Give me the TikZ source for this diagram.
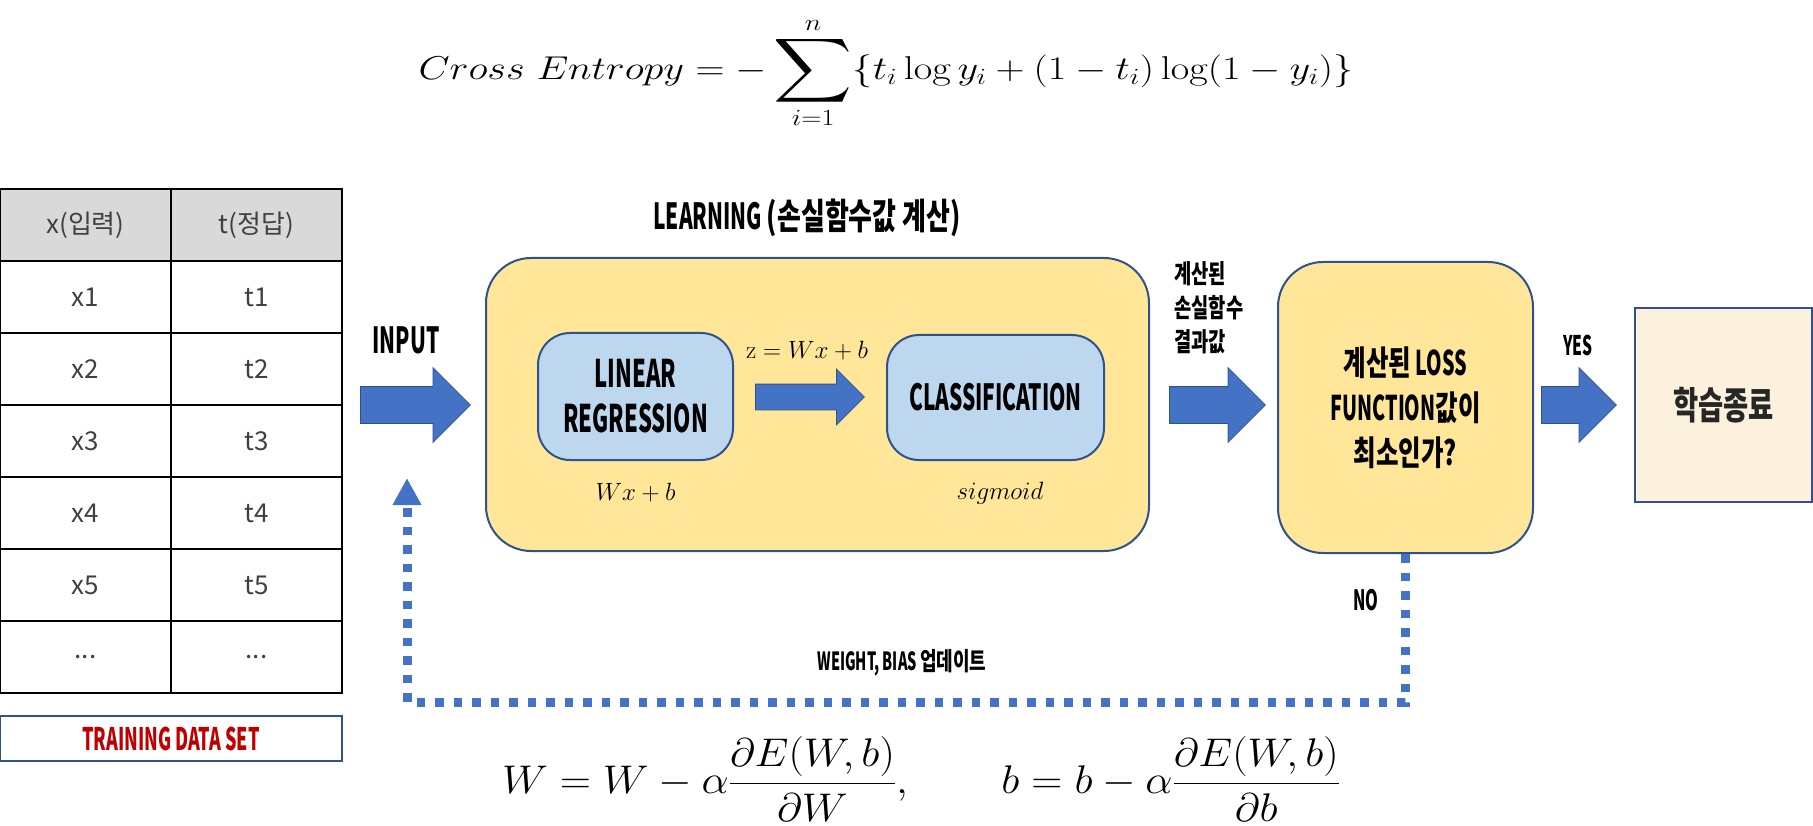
\RequirePackage{fix-cm}
\documentclass[tikz,border=0pt]{standalone}
\usepackage{fontspec}
\usepackage{amsmath}
\usetikzlibrary{positioning,shapes.arrows,arrows.meta}

\newfontfamily\krfont{Noto Sans CJK KR}
\newfontfamily\headfont[FakeStretch=0.58]{Noto Sans CJK KR}
\newfontfamily\headkr[FakeStretch=0.72]{Noto Sans CJK KR}
\newcommand{\fsz}[2]{\fontsize{#1}{#2}\selectfont}
\newcommand{\krtxt}[1]{{\headkr #1}}
\newcommand{\tdots}{...}
\newcommand{\bigsum}{\mathop{\vcenter{\hbox{\scalebox{1.8}{$\displaystyle\sum$}}}}\limits}

\definecolor{arrowblue}{HTML}{4472C4}
\definecolor{edgeblue}{HTML}{2F528F}
\definecolor{boxyellow}{HTML}{FFE699}
\definecolor{boxblue}{HTML}{BDD7EE}
\definecolor{cream}{HTML}{FBF1DC}
\definecolor{headgray}{HTML}{D9D9D9}
\definecolor{celltext}{HTML}{404040}
\definecolor{donetext}{HTML}{262626}
\definecolor{setred}{HTML}{C00000}

\begin{document}
\begin{tikzpicture}[x=1pt,y=-1pt,node distance=60pt,on grid,
    cell/.style={draw,line width=2pt,minimum width=171pt,minimum height=72pt,
      inner sep=0pt,text=celltext,font=\krfont\fsz{26}{30}},
    hcell/.style={cell,fill=headgray},
    head/.style 2 args={font=\headfont\bfseries\fsz{#1}{#2},align=center},
    box/.style={rounded corners=#1,draw=edgeblue,line width=2pt,inner sep=0pt},
    box/.default=30pt,
    blk/.style={single arrow,fill=arrowblue,draw=edgeblue,line width=0.8pt,
      inner xsep=0pt,inner ysep=18pt,single arrow head extend=19pt,
      single arrow head indent=0pt,anchor=tail},
    mathlbl/.style={font=\fsz{25}{30}},
    fb/.style={draw=arrowblue,line width=9pt,dash pattern=on 8.5pt off 10pt,
      -{Triangle[width=27pt,length=27pt]}}]
  \useasboundingbox (0,0) rectangle (1813,826);

  % cross entropy
  \node[font=\fsz{33}{40},inner sep=0pt] (ce) at (886,73)
    {\scalebox{1.22}[1]{$\displaystyle Cross\ Entropy=-\bigsum_{i=1}^{n}\{t_i\log y_i+(1-t_i)\log(1-y_i)\}$}};

  % training data table
  \node[hcell] (xh) at (85.5,225) {x(입력)};
  \node[hcell] (th) [right=171pt of xh] {t(정답)};
  \foreach \a/\b [count=\i] in {x1/t1,x2/t2,x3/t3,x4/t4,x5/t5,\tdots/\tdots}
    {
    \node[cell] (x\i) at (85.5,225+72*\i) {\a};
    \node[cell] (t\i) [right=171pt of x\i] {\b};
    }
  \node[draw=edgeblue,line width=2pt,minimum width=342pt,minimum height=45pt,
    head={31}{36},text=setred] (train) at (171,738.5) {TRAINING DATA SET};

  % learning block
  \node[blk,minimum height=110pt] (inarr) at (360,405) {};
  \node[head={36}{42}] (inlbl) at (406,340) {INPUT};
  \node[box=45pt,fill=boxyellow,minimum width=663pt,minimum height=293pt] (learn) at (817.5,404.5) {};
  \node[head={36}{42}] (ltitle) [above=186.5pt of learn,xshift=-10.5pt] {LEARNING \krtxt{(손실함수값 계산)}};
  \node[box=32pt,fill=boxblue,minimum width=195pt,minimum height=127pt,head={38}{45}] (lin) at (635.5,396.5) {LINEAR\\REGRESSION};
  \node[box=32pt,fill=boxblue,minimum width=217pt,minimum height=125pt,head={36}{42}] (cls) at (995.5,397.5) {CLASSIFICATION};
  \node[blk,minimum height=109pt,inner ysep=12.5pt,single arrow head extend=15pt] (midarr) at (755,397) {};
  \node[mathlbl] (zlbl) at (807,351) {$\mathrm{z}=Wx+b$};
  \node[mathlbl] (wxb) [below=96.5pt of lin] {$Wx+b$};
  \node[mathlbl] (sig) [below=95.5pt of cls,xshift=4.5pt] {$sigmoid$};

  % decision
  \node[blk,minimum height=96pt] (resarr) at (1169,405) {};
  \node[font=\headkr\bfseries\fsz{26}{34},align=left,anchor=west] (reslbl) at (1171,308) {계산된\\손실함수\\결과값};
  \node[box=45pt,fill=boxyellow,minimum width=255pt,minimum height=291pt,head={34}{45}] (dec) at (1405.5,407.5)
    {\krtxt{계산된} LOSS\\FUNCTION\krtxt{값이}\\\krtxt{최소인가?}};
  \node[blk,minimum height=75pt] (yesarr) at (1541,405) {};
  \node[head={27}{32}] (yeslbl) at (1578,345) {YES};
  \node[draw=edgeblue,line width=2pt,fill=cream,minimum width=177pt,minimum height=194pt,
    font=\headkr\bfseries\fsz{38}{44},text=donetext] (done) at (1723.5,405) {학습종료};

  % feedback
  \coordinate (turn) at (407,702);
  \coordinate (fbend) at (407,478);
  \draw[fb] (dec.south) |- (turn) -- (fbend);
  \node[head={28}{32}] (nolbl) at (1366,600) {NO};
  \node[head={25}{30}] (wlbl) at (902,663) {WEIGHT, BIAS \krtxt{업데이트}};

  % update rule
  \node[font=\fsz{40}{48},inner sep=0pt] (upd) at (921,779)
    {\scalebox{1.08}[1]{$\displaystyle W=W-\alpha\frac{\partial E(W,b)}{\partial W},\qquad b=b-\alpha\frac{\partial E(W,b)}{\partial b}$}};
\end{tikzpicture}
\end{document}
